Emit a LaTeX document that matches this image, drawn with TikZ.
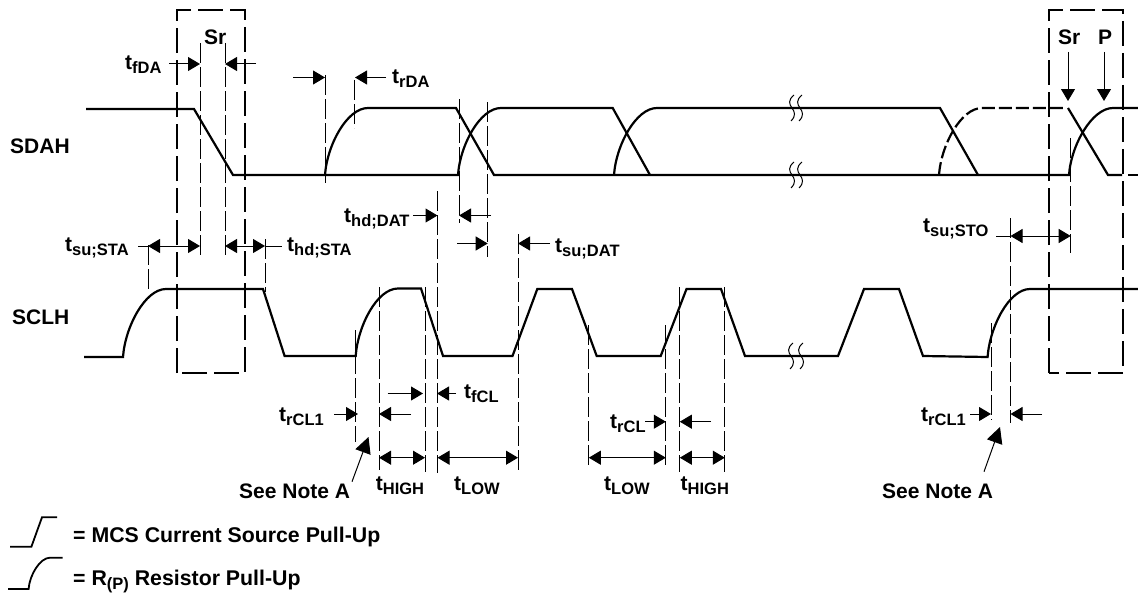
\documentclass[tikz,border=0pt]{standalone}
\usepackage{fontspec}
\setmainfont{Liberation Sans}[BoldFont={Liberation Sans Bold}]
\usetikzlibrary{arrows.meta}
\newcommand\tmg[1]{t\raisebox{-4pt}{\fontsize{16.5}{16.5}\selectfont #1}}
\newcommand\brkmark[2]{%
  \draw[breakline] (#1+2,#2-13) .. controls (#1-4,#2-8) and (#1-3,#2-4) .. (#1,#2) .. controls (#1+3,#2+4) and (#1+4,#2+8) .. (#1-1,#2+13);}
\tikzset{
  lab/.style={anchor=base west,inner sep=0pt,font=\fontsize{21}{21}\selectfont\bfseries},
  leglab/.style={anchor=base west,inner sep=0pt,font=\fontsize{21.3}{21.3}\selectfont\bfseries},
  wave/.style={line width=2.2pt,line join=miter},
  wavedash/.style={line width=2.2pt,dash pattern=on 13pt off 4pt},
  boxdash/.style={line width=2.2pt,dash pattern=on 25pt off 7pt},
  guide/.style={line width=1pt,dash pattern=on 20pt off 4pt},
  dimr/.style={line width=1pt,-{Triangle[length=12pt,width=14pt]}},
  dimb/.style={line width=1pt,{Triangle[length=12pt,width=14pt]}-{Triangle[length=12pt,width=14pt]}},
  notearrow/.style={line width=1pt,-{Triangle[length=16pt,width=16pt]}},
  breakline/.style={line width=1pt},
  riser/.style={out=86,in=180,out distance=30pt,in distance=21pt},
  smallriser/.style={out=86,in=180,out distance=14pt,in distance=10pt}
}
\begin{document}
\begin{tikzpicture}[x=1pt,y=-1pt]
\useasboundingbox (0,0) rectangle (1138,594);
\fill[white] (0,0) rectangle (1138,594);
% dashed boxes
\draw[boxdash] (177,373) -- (177,10) -- (245,10) -- (245,373) -- cycle;
\draw[boxdash] (1049,373) -- (1049,10) -- (1123,10) -- (1123,373) -- cycle;
% guides
\foreach \x/\a/\b in {200/43/258,225/43/258,325/75/183,354.5/80/128,148/245/292,265/239/292,
  459/99/223,487.7/102/257,437.5/191/473,518/234/470,379/287/470,355.7/330/442,425/287/472,
  588.8/325/465,665.8/325/465,679.8/287/472,724.8/287/472,991/323/420,1010.5/218/423,1070.7/138/253}
  \draw[guide] (\x,\a) -- (\x,\b);
% SDAH
\draw[wave] (86,109) -- (194,109) -- (233,175) -- (325,175) to[riser] (368,108) -- (456,108) -- (494,175) -- (978,175);
\draw[wave] (325,175) -- (458,175) to[riser] (501,108) -- (612.7,108) -- (650,175);
\draw[wave] (614,175) to[riser] (657,108) -- (940,108) -- (978,175);
\draw[wavedash] (939,175) to[riser] (982,108) -- (1063,108);
\draw[wave] (978,175) -- (1069,175) to[riser] (1113,108) -- (1138,108);
\draw[wave] (1068,108) -- (1108,175) -- (1122,175);
\draw[wave] (1128,175) -- (1138,175);
\brkmark{792}{108}\brkmark{800}{108}
\brkmark{792}{175}\brkmark{800}{175}
% SCLH
\draw[wave] (84,357) -- (123,357) to[riser] (166,289) -- (263,289) -- (284.6,356) -- (355.7,356) to[riser] (398,288.5) -- (421,288.5) -- (443,356) -- (512.5,356) -- (537.3,289) -- (572,289) -- (596.7,356) -- (660.7,356) -- (686.5,289) -- (721,289) -- (745,356) -- (838,356) -- (864,289) -- (899,289) -- (923,356) -- (987.6,357) to[riser] (1030,289) -- (1138,289);
\brkmark{791}{356}\brkmark{801}{356}
% dimension arrows
\coordinate (fdaL) at (169,64); \coordinate (fdaLt) at (200,64);
\coordinate (fdaR) at (256,64); \coordinate (fdaRt) at (225,64);
\draw[dimr] (fdaL) -- (fdaLt);
\draw[dimr] (fdaR) -- (fdaRt);
\coordinate (rdaL) at (293,77.5); \coordinate (rdaLt) at (325,77.5);
\coordinate (rdaR) at (386,77.5); \coordinate (rdaRt) at (355,77.5);
\draw[dimr] (rdaL) -- (rdaLt);
\draw[dimr] (rdaR) -- (rdaRt);
\draw[line width=1pt] (138,246) -- (148,246);
\draw[dimb] (148,246) -- (200,246);
\draw[dimb] (225,246) -- (265,246);
\draw[line width=1pt] (265,246) -- (282,246);
\draw[dimr] (413,215.5) -- (437.5,215.5);
\draw[dimr] (491,215.5) -- (459,215.5);
\draw[dimr] (457,243.5) -- (487.7,243.5);
\draw[dimr] (550,243.5) -- (518,243.5);
\draw[line width=1pt] (996,236) -- (1010.5,236);
\draw[dimb] (1010.5,236) -- (1070.7,236);
\draw[dimr] (1068,52) -- (1068,101);
\draw[dimr] (1104,52) -- (1104,101);
\draw[dimr] (387.5,393.5) -- (423,393.5);
\draw[dimr] (456,393.5) -- (437,393.5);
\draw[dimr] (334,414) -- (358,414);
\draw[dimr] (411,414) -- (379,414);
\draw[dimb] (379,457.7) -- (425,457.7);
\draw[dimb] (437.5,457.7) -- (518,457.7);
\draw[dimr] (645,421.7) -- (665.8,421.7);
\draw[dimr] (711,421.7) -- (679.8,421.7);
\draw[dimb] (588.8,457.7) -- (665.8,457.7);
\draw[dimb] (679.8,457.7) -- (724.8,457.7);
\draw[dimr] (970,414) -- (991,414);
\draw[dimr] (1042,414) -- (1010.5,414);
\draw[notearrow] (352,481.7) -- (368.5,437);
\draw[notearrow] (984,471.7) -- (1000,427);
% legend symbols
\draw[wave,line width=1.8pt] (10,546.7) -- (31.4,546.7) -- (42,517.3) -- (57,517.3);
\draw[wave,line width=1.8pt] (8,589) -- (28.6,589) to[smallriser] (50,557.7) -- (62.5,557.7);
% labels
\node[lab] (sdah) at (10,153) {SDAH};
\node[lab] (sclh) at (12,324) {SCLH};
\node[lab] (sr1) at (204,45) {Sr};
\node[lab] (sr2) at (1058,45) {Sr};
\node[lab] (pp) at (1098,45) {P};
\node[lab] (tfda) at (125,70) {\tmg{fDA}};
\node[lab] (trda) at (392,84) {\tmg{rDA}};
\node[lab] (tsusta) at (65,251) {\tmg{su;STA}};
\node[lab] (thdsta) at (287,251) {\tmg{hd;STA}};
\node[lab] (thddat) at (344,222) {\tmg{hd;DAT}};
\node[lab] (tsudat) at (555,252) {\tmg{su;DAT}};
\node[lab] (tsusto) at (923,232) {\tmg{su;STO}};
\node[lab] (tfcl) at (464,398) {\tmg{fCL}};
\node[lab] (trcla) at (279,421) {\tmg{rCL1}};
\node[lab] (trclb) at (921,421) {\tmg{rCL1}};
\node[lab] (trcl) at (610,428) {\tmg{rCL}};
\node[lab] (thigha) at (375.7,490) {\tmg{HIGH}};
\node[lab] (tlowa) at (454,490) {\tmg{LOW}};
\node[lab] (tlowb) at (604,490) {\tmg{LOW}};
\node[lab] (thighb) at (680.5,490) {\tmg{HIGH}};
\node[lab] (notea) at (239,498) {See Note A};
\node[lab] (noteb) at (882,498) {See Note A};
\node[leglab] (legmcs) at (73,542) {= MCS Current Source Pull-Up};
\node[leglab] (legrp) at (73,585) {= R\raisebox{-4pt}{\fontsize{16.5}{16.5}\selectfont (P)} Resistor Pull-Up};
\end{tikzpicture}
\end{document}
